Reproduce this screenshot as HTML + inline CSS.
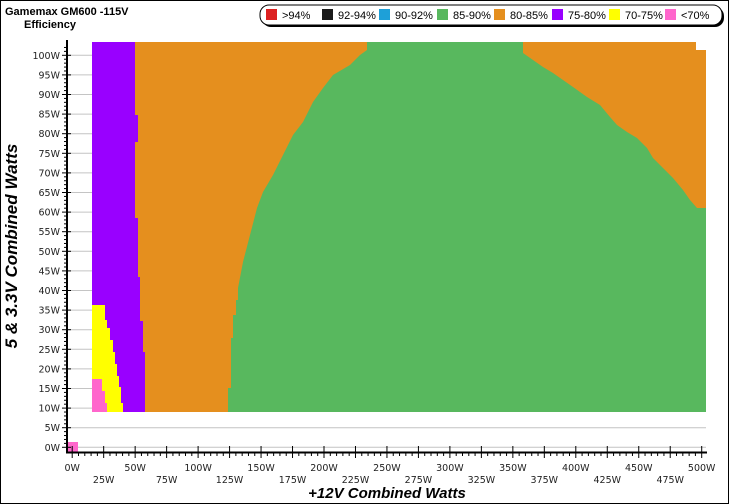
<!DOCTYPE html>
<html><head><meta charset="utf-8"><style>
html,body{margin:0;padding:0;background:#fff}
svg{display:block}
.tk{font-family:"DejaVu Sans","Liberation Sans",sans-serif}
.lb{font-family:"Liberation Sans",sans-serif}
</style></head><body>
<svg width="729" height="504" viewBox="0 0 729 504" xmlns="http://www.w3.org/2000/svg">
<rect x="0.5" y="0.5" width="728" height="503" fill="#fff" stroke="#000"/>
<text class="lb" x="5" y="15" font-size="11" font-weight="bold">Gamemax GM600 -115V</text>
<text class="lb" x="24" y="28" font-size="11" font-weight="bold">Efficiency</text>
<rect x="262" y="7" width="462" height="20" rx="9" fill="#000"/>
<rect x="260" y="5" width="462" height="20" rx="9" fill="#fff" stroke="#000"/>
<g font-size="11" class="lb">
<rect x="266" y="9" width="11" height="11" fill="#dc2020"/><text class="lb" x="282" y="19">&gt;94%</text>
<rect x="322" y="9" width="11" height="11" fill="#1a1a1a"/><text class="lb" x="338" y="19">92-94%</text>
<rect x="379" y="9" width="11" height="11" fill="#1ea0d8"/><text class="lb" x="395" y="19">90-92%</text>
<rect x="437" y="9" width="11" height="11" fill="#58b85e"/><text class="lb" x="453" y="19">85-90%</text>
<rect x="494" y="9" width="11" height="11" fill="#e58f1e"/><text class="lb" x="510" y="19">80-85%</text>
<rect x="552" y="9" width="11" height="11" fill="#9900ff"/><text class="lb" x="568" y="19">75-80%</text>
<rect x="609" y="9" width="11" height="11" fill="#ffff00"/><text class="lb" x="625" y="19">70-75%</text>
<rect x="665" y="9" width="11" height="11" fill="#ff66cc"/><text class="lb" x="681" y="19">&lt;70%</text>
</g>
<g stroke="#c4c4c4" stroke-width="1" id="gl"></g>
<rect x="92" y="42" width="614" height="370" fill="#e58f1e"/>
<rect x="696" y="42" width="11" height="8" fill="#fff"/>
<polygon fill="#9900ff" points="92,42 135,42 135,115 138,115 138,142 135,142 135,218 138,218 138,277 140,277 140,321 143,321 143,352 145,352 145,412 92,412"/>
<polygon fill="#ffff00" points="92,305 105,305 105,320 107,320 107,328 110,328 110,340 113,340 113,352 115,352 115,364 117,364 117,376 119,376 119,387 121,387 121,403 123,403 123,412 92,412"/>
<polygon fill="#ff66cc" points="92,379 102,379 102,391 105,391 105,403 107,403 107,412 92,412"/>
<polygon fill="#58b85e" points="367,42 523,42 523,53 533,60 543,67 553,73 563,80 573,87 587,97 600,105 610,117 617,125 627,132 637,138 647,148 653,158 663,168 673,178 683,190 690,200 697,208 706,208 706,412 228,412 228,388 231,388 231,338 233,338 233,315 236,315 236,300 238,300 238,288 243,262 250,235 257,208 263,192 273,175 283,155 293,135 303,122 313,102 323,88 333,75 350,65 360,55 367,50"/>
<rect x="67" y="442" width="11" height="10" fill="#ff66cc"/>
<line x1="67" y1="40" x2="67" y2="453" stroke="#000" stroke-width="2"/>
<line x1="66" y1="452.5" x2="707" y2="452.5" stroke="#000" stroke-width="2"/>
<g stroke="#000" stroke-width="1" id="yt"></g>
<g font-size="9.5" text-anchor="end" fill="#222" class="tk" id="yl"></g>
<g stroke="#000" stroke-width="1" id="xt"></g>
<g font-size="9.5" text-anchor="middle" fill="#222" class="tk" id="xl"></g>
<text class="lb" x="387" y="498" font-size="15" font-weight="bold" font-style="italic" text-anchor="middle">+12V Combined Watts</text>
<text class="lb" transform="translate(17,246) rotate(-90)" font-size="17" font-weight="bold" font-style="italic" text-anchor="middle">5 &amp; 3.3V Combined Watts</text>
</svg>
<script>
var ns="http://www.w3.org/2000/svg";
function el(p,t,a,txt){var e=document.createElementNS(ns,t);for(var k in a)e.setAttribute(k,a[k]);if(txt)e.textContent=txt;document.getElementById(p).appendChild(e);}
for(var w=0;w<=102;w++){var y=447.3-3.92*w;var maj=w%5==0;
el("yt","line",{x1:maj?62:64,x2:maj?71:67,y1:y,y2:y});
if(maj&&w<=100){el("yl","text",{x:60,y:y+3.5},w+"W");el("gl","line",{x1:67,x2:706,y1:y,y2:y});}}
for(var w=0;w<=500;w+=5){var x=72.2+1.259*w;var maj=w%25==0;
el("xt","line",{x1:x,x2:x,y1:maj?446:452,y2:maj?458:456});
if(maj){var r=(w%50==0);el("xl","text",{x:x,y:r?471:483},w+"W");}}
</script>
</body></html>
